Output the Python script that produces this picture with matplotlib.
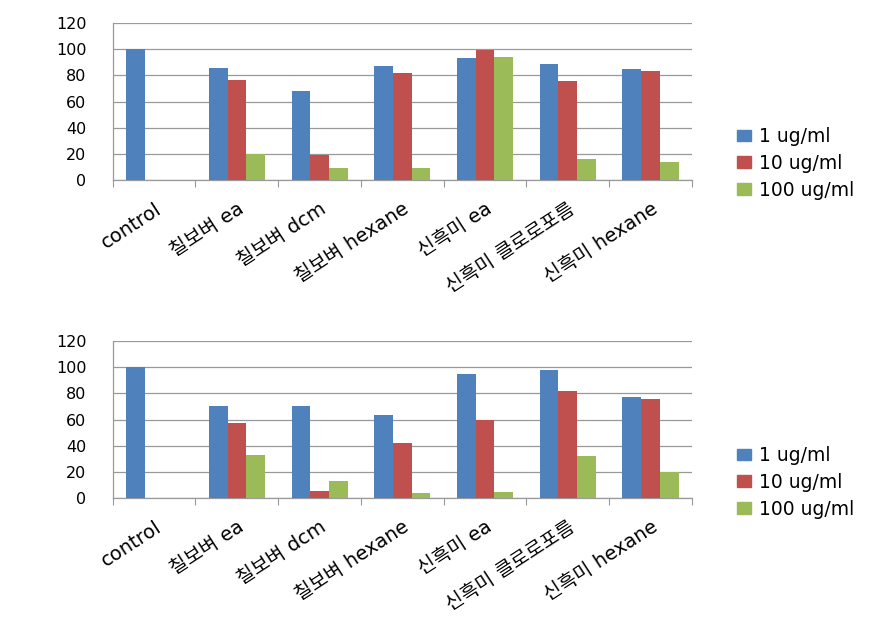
import numpy as np
import matplotlib
matplotlib.use('Agg')
import matplotlib.pyplot as plt
from matplotlib.patches import Patch

plt.rcParams['font.family'] = ['DejaVu Sans', 'Noto Sans CJK KR']
plt.rcParams['axes.unicode_minus'] = False

# 데이터
categories = ['control', '칠보벼 ea', '칠보벼 dcm', '칠보벼 hexane',
              '신흑미 ea', '신흑미 클로로포름', '신흑미 hexane']
series_names = ['1 ug/ml', '10 ug/ml', '100 ug/ml']

top_1 = [100, 85.6, 68, 87.2, 93.3, 88.7, 84.9]
top_10 = [0, 76.4, 19.4, 81.8, 99.4, 75.7, 83.3]
top_100 = [0, 19.9, 9.4, 9.2, 94, 16, 14]

bot_1 = [100, 70.3, 70.3, 63.7, 95, 97.9, 77.2]
bot_10 = [0, 57.3, 5.6, 42, 59.9, 81.8, 75.7]
bot_100 = [0, 32.9, 13, 3.6, 4.3, 31.9, 19.6]

colors = ['#4F81BD', '#C0504D', '#9BBB59']
grid_color = '#999999'

fig = plt.figure(figsize=(8.95, 6.23), dpi=100)
ax_top = fig.add_axes([0.126, 0.711, 0.647, 0.252])
ax_bot = fig.add_axes([0.126, 0.2006, 0.647, 0.252])


def draw(ax, data, legend_y):
    x = np.arange(len(categories))
    w = 0.226
    for i, (vals, c) in enumerate(zip(data, colors)):
        ax.bar(x + (i - 1) * w, vals, w, color=c, zorder=3)
    ax.set_xlim(-0.5, len(categories) - 0.5)
    ax.set_ylim(0, 120)
    ax.set_yticks(range(0, 121, 20))
    ax.yaxis.grid(True, color=grid_color, linewidth=0.9, zorder=0)
    for s in ['top', 'right']:
        ax.spines[s].set_visible(False)
    for s in ['left', 'bottom']:
        ax.spines[s].set_color(grid_color)
        ax.spines[s].set_linewidth(0.9)
    ax.tick_params(axis='y', length=0, labelsize=11.5, pad=19)
    # 카테고리 경계에 눈금
    ax.set_xticks(np.arange(-0.5, len(categories) + 0.5, 1), minor=False)
    ax.set_xticklabels([])
    ax.tick_params(axis='x', which='major', length=5, color=grid_color, direction='out')
    ax.set_xticks(x, minor=True)
    ax.set_xticklabels(categories, minor=True, rotation=33, ha='right',
                       rotation_mode='anchor', fontsize=14)
    ax.tick_params(axis='x', which='minor', length=0, pad=14)
    handles = [Patch(color=c, label=n) for c, n in zip(colors, series_names)]
    fig.legend(handles=handles, loc='upper left', bbox_to_anchor=(0.805, legend_y),
               frameon=False, fontsize=13.5, handlelength=0.75, handleheight=0.55,
               handletextpad=0.4, labelspacing=0.42)


draw(ax_top, [top_1, top_10, top_100], 1 - 110 / 623)
draw(ax_bot, [bot_1, bot_10, bot_100], 1 - 429 / 623)

fig.savefig('out.png', dpi=100)
